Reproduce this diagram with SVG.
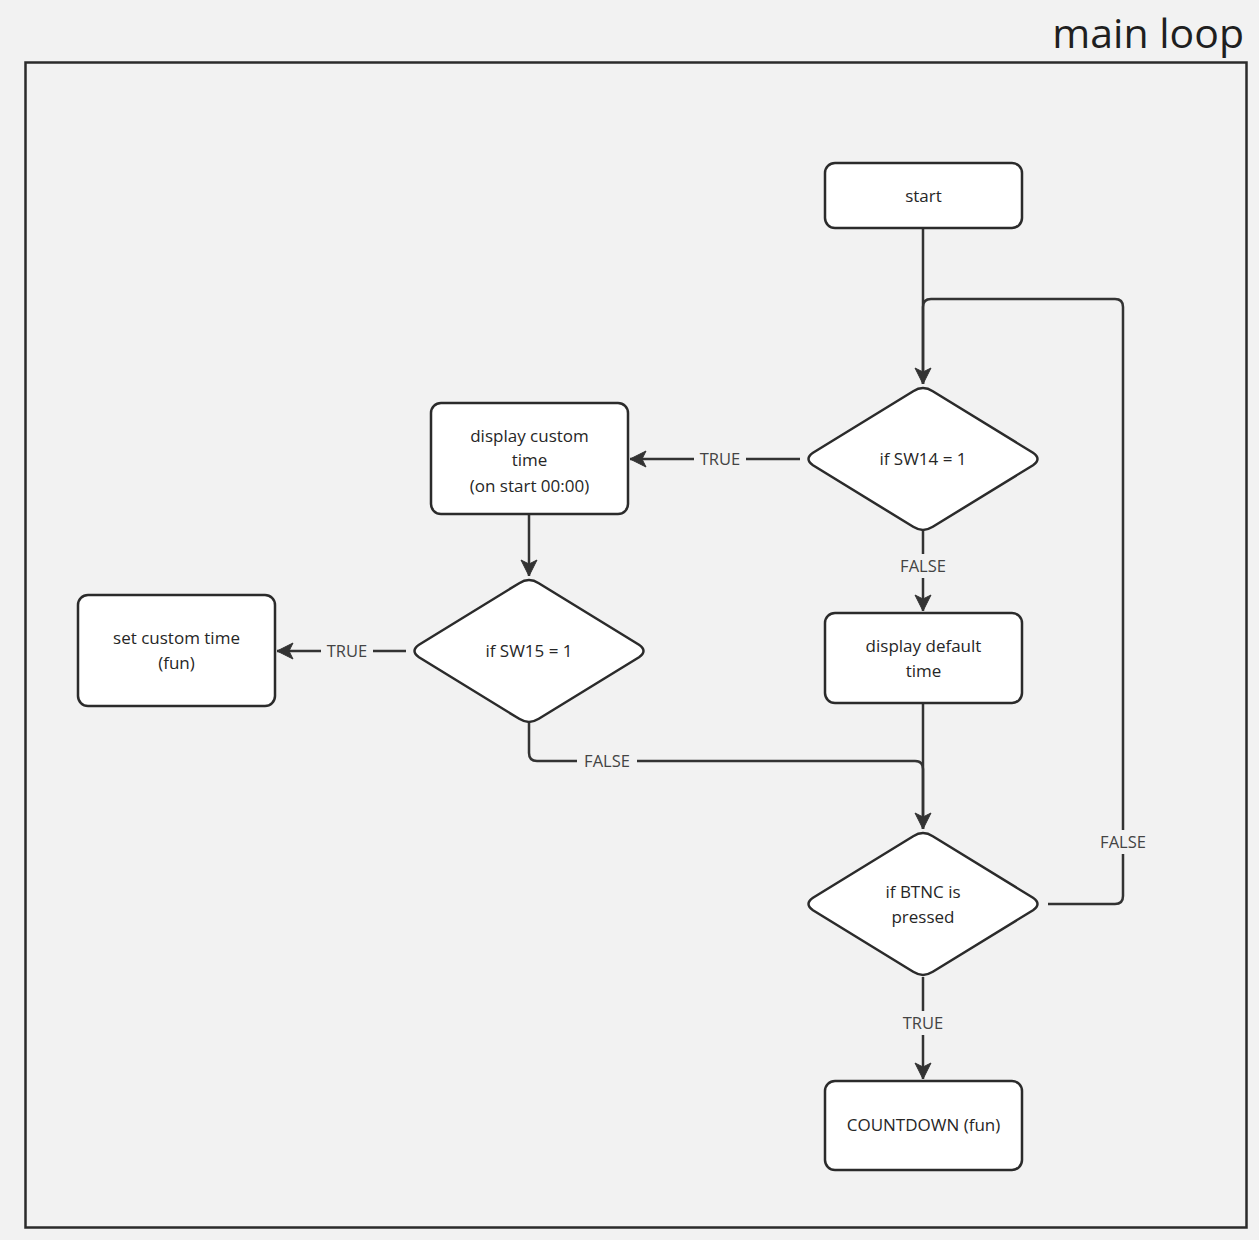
<svg xmlns="http://www.w3.org/2000/svg" width="1259" height="1240" viewBox="0 0 1259 1240">
  <style>
    .node { fill: #ffffff; stroke: #2b2b2b; stroke-width: 2.5; }
    .ntext { font-family: "Open Sans", "Noto Sans", sans-serif; font-size: 17px; fill: #262626; text-anchor: middle; }
    .edge { fill: none; stroke: #333333; stroke-width: 2.5; }
    .elabel { font-family: "Open Sans", "Noto Sans", sans-serif; font-size: 16.5px; fill: #444444; text-anchor: middle; }
    .lbg { fill: #f2f2f2; }
  </style>
  <defs>
    <marker id="arrow" markerUnits="userSpaceOnUse" markerWidth="20" markerHeight="20" viewBox="0 0 20 20" refX="18" refY="10" orient="auto">
      <path d="M2,2 L18,10 L2,18 L6,10 Z" fill="#333333" stroke="#333333" stroke-width="1" stroke-linejoin="round"/>
    </marker>
    <path id="diamond" d="M-110,-6.2 L-9.8,-67.8 Q0,-74 9.8,-67.8 L110,-6.2 Q119,0 110,6.2 L9.8,67.8 Q0,74 -9.8,67.8 L-110,6.2 Q-119,0 -110,-6.2 Z"/>
  </defs>

  <rect x="0" y="0" width="1259" height="1240" fill="#f2f2f2"/>

  <!-- frame and title -->
  <g id="frame">
    <rect x="25.5" y="62.5" width="1221" height="1165" fill="none" stroke="#2b2b2b" stroke-width="2.5"/>
    <text x="1244" y="48" font-family="'Open Sans', 'Noto Sans', sans-serif" font-size="41" fill="#1f1f1f" text-anchor="end">main loop</text>
  </g>

  <!-- connectors -->
  <g id="connectors">
    <path class="edge" d="M923,228 L923,384" marker-end="url(#arrow)"/>
    <path class="edge" d="M1048,904 L1115,904 Q1123,904 1123,896 L1123,307 Q1123,299 1115,299 L931,299 Q923,299 923,307 L923,384"/>
    <path class="edge" d="M800,459 L630,459" marker-end="url(#arrow)"/>
    <path class="edge" d="M923,531 L923,611" marker-end="url(#arrow)"/>
    <path class="edge" d="M529,514 L529,576" marker-end="url(#arrow)"/>
    <path class="edge" d="M406,651 L277,651" marker-end="url(#arrow)"/>
    <path class="edge" d="M529,723 L529,753 Q529,761 537,761 L915,761 Q923,761 923,769 L923,829"/>
    <path class="edge" d="M923,703 L923,829" marker-end="url(#arrow)"/>
    <path class="edge" d="M923,977 L923,1079" marker-end="url(#arrow)"/>

    <rect class="lbg" x="1096" y="830" width="54" height="24"/>
    <text class="elabel" x="1123" y="848">FALSE</text>
    <rect class="lbg" x="694" y="447" width="52" height="24"/>
    <text class="elabel" x="720" y="465">TRUE</text>
    <rect class="lbg" x="896" y="554" width="54" height="24"/>
    <text class="elabel" x="923" y="572">FALSE</text>
    <rect class="lbg" x="321" y="639" width="52" height="24"/>
    <text class="elabel" x="347" y="657">TRUE</text>
    <rect class="lbg" x="577" y="749" width="60" height="24"/>
    <text class="elabel" x="607" y="767">FALSE</text>
    <rect class="lbg" x="897" y="1011" width="52" height="24"/>
    <text class="elabel" x="923" y="1029">TRUE</text>
  </g>

  <!-- nodes -->
  <g id="node-start">
    <rect class="node" x="825" y="163" width="197" height="65" rx="10"/>
    <text class="ntext" x="923.5" y="202">start</text>
  </g>
  <g id="node-sw14">
    <use href="#diamond" class="node" transform="translate(923,459)"/>
    <text class="ntext" x="923" y="465">if SW14 = 1</text>
  </g>
  <g id="node-display-custom">
    <rect class="node" x="431" y="403" width="197" height="111" rx="10"/>
    <text class="ntext" x="529.5" y="442">display custom</text>
    <text class="ntext" x="529.5" y="466">time</text>
    <text class="ntext" x="529.5" y="492">(on start 00:00)</text>
  </g>
  <g id="node-sw15">
    <use href="#diamond" class="node" transform="translate(529,651)"/>
    <text class="ntext" x="529" y="657">if SW15 = 1</text>
  </g>
  <g id="node-set-custom">
    <rect class="node" x="78" y="595" width="197" height="111" rx="10"/>
    <text class="ntext" x="176.5" y="644">set custom time</text>
    <text class="ntext" x="176.5" y="669">(fun)</text>
  </g>
  <g id="node-display-default">
    <rect class="node" x="825" y="613" width="197" height="90" rx="10"/>
    <text class="ntext" x="923.5" y="652">display default</text>
    <text class="ntext" x="923.5" y="677">time</text>
  </g>
  <g id="node-btnc">
    <use href="#diamond" class="node" transform="translate(923,904)"/>
    <text class="ntext" x="923" y="898">if BTNC is</text>
    <text class="ntext" x="923" y="923">pressed</text>
  </g>
  <g id="node-countdown">
    <rect class="node" x="825" y="1081" width="197" height="89" rx="10"/>
    <text class="ntext" x="923.5" y="1131">COUNTDOWN (fun)</text>
  </g>
</svg>
